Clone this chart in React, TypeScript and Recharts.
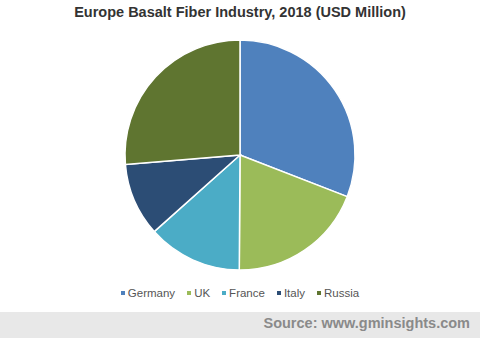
import React from "react";
import { PieChart, Pie, Cell } from "recharts";

const countries = ["Germany", "UK", "France", "Italy", "Russia"];
const shares = [30.9, 19.2, 13.3, 10.3, 26.3];
const colors = ["#4f81bd", "#9bbb59", "#4bacc6", "#2c4d75", "#5f7530"];

const data = countries.map((name, i) => ({ name, value: shares[i] }));

export default function App() {
  return (
    <div
      style={{
        position: "fixed",
        left: 0,
        top: 0,
        width: 480,
        height: 338,
        background: "#ffffff",
        fontFamily: "Arial, 'Liberation Sans', sans-serif",
        overflow: "hidden",
      }}
    >
      <div
        style={{
          position: "absolute",
          top: 4,
          width: 480,
          textAlign: "center",
          fontSize: 14.5,
          fontWeight: "bold",
          color: "#333333",
        }}
      >
        Europe Basalt Fiber Industry, 2018 (USD Million)
      </div>
      <PieChart
        width={480}
        height={312}
        margin={{ top: 0, right: 0, bottom: 0, left: 0 }}
        style={{ position: "absolute", top: 0, left: 0 }}
      >
        <Pie
          data={data}
          dataKey="value"
          nameKey="name"
          cx={240}
          cy={155}
          outerRadius={115}
          startAngle={90}
          endAngle={-270}
          stroke="#ffffff"
          strokeWidth={1.5}
          isAnimationActive={false}
        >
          {data.map((entry, index) => (
            <Cell key={`cell-${index}`} fill={colors[index]} />
          ))}
        </Pie>
      </PieChart>
      <div
        style={{
          position: "absolute",
          top: 287,
          left: 0,
          width: 480,
          display: "flex",
          justifyContent: "center",
          fontSize: 11.5,
          color: "#555555",
        }}
      >
        {countries.map((name, i) => (
          <span key={name} style={{ display: "flex", alignItems: "center", margin: "0 6px" }}>
            <span
              style={{
                display: "inline-block",
                width: 4,
                height: 4,
                background: colors[i],
                marginRight: 3,
              }}
            />
            {name}
          </span>
        ))}
      </div>
      <div
        style={{
          position: "absolute",
          left: 0,
          top: 312,
          width: 480,
          height: 26,
          background: "#e8e8e8",
        }}
      />
      <div
        style={{
          position: "absolute",
          right: 10,
          top: 315,
          fontSize: 14.5,
          fontWeight: "bold",
          color: "#8a8a8a",
        }}
      >
        Source: www.gminsights.com
      </div>
    </div>
  );
}
